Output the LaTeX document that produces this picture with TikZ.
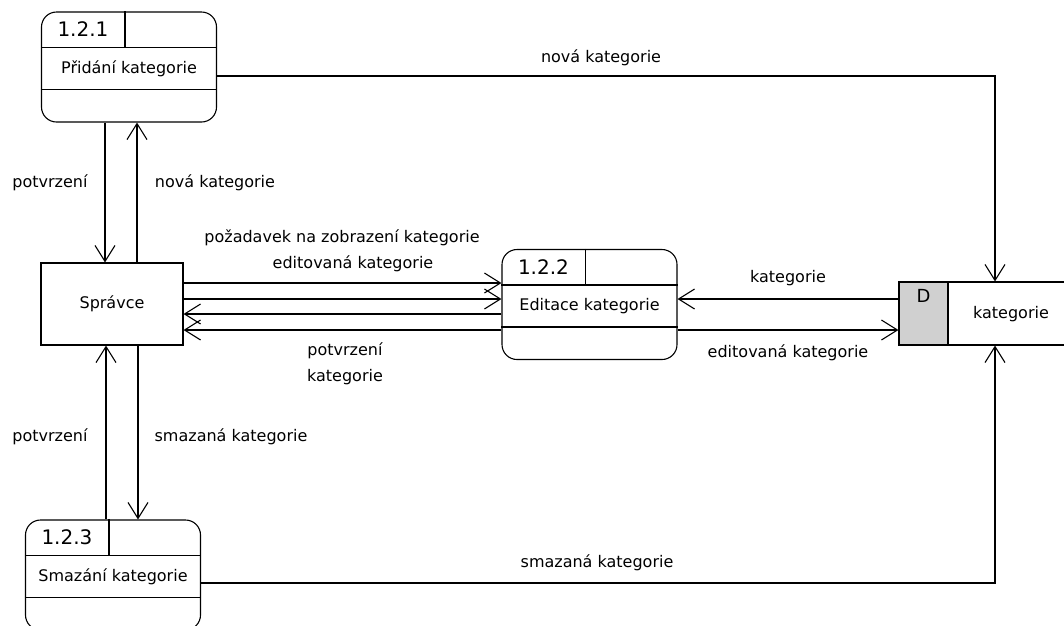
\documentclass[tikz,border=0pt]{standalone}
\usepackage{fontspec}
\setmainfont{DejaVu Sans}
\usetikzlibrary{arrows.meta}
\definecolor{storegray}{RGB}{208,208,208}

\begin{document}
\begin{tikzpicture}[x=1pt,y=-1pt]
\tikzstyle{every node}=[font=\fontsize{16}{19}\selectfont]
\tikzstyle{proc}=[draw,rounded corners=15pt,minimum width=175pt,minimum height=110pt,line width=1.1pt]
\tikzstyle{ent}=[draw,minimum width=142pt,minimum height=82pt,line width=1.1pt]
\tikzstyle{store}=[draw,minimum width=192pt,minimum height=63pt,line width=1.1pt]
\tikzstyle{num}=[font=\fontsize{20}{24}\selectfont]
\tikzstyle{flow}=[-{Straight Barb[length=16pt,width=20pt]},line width=1.1pt]
\clip (0,0) rectangle (1064,625);
\foreach \n/\x/\y/\num/\txt in {121/129/67/1.2.1/Přidání kategorie,122/589.5/304.5/1.2.2/Editace kategorie,123/113/575/1.2.3/Smazání kategorie}{
  \node[proc] (p\n) at (\x,\y) {};
  \draw[line width=1.1pt] ([yshift=-36pt]p\n.north west) -- ([yshift=-36pt]p\n.north east);
  \draw[line width=1.1pt] ([yshift=-78pt]p\n.north west) -- ([yshift=-78pt]p\n.north east);
  \draw[line width=1.1pt] ([xshift=84pt]p\n.north west) -- ([xshift=84pt,yshift=-36pt]p\n.north west);
  \node[num] (p\n n) at ([xshift=42pt,yshift=-18pt]p\n.north west) {\num};
  \node (p\n t) at ([yshift=-57pt]p\n.north) {\txt};
}
\node[ent] (sp) at (112,304) {Správce};
\node[store] (ds) at (995,313.5) {};
\node[draw,fill=storegray,minimum width=49pt,minimum height=63pt,line width=1.1pt,anchor=west] (dsd) at (ds.west) {};
\node[num,font=\fontsize{18}{22}\selectfont] (dsl) at ([yshift=-14pt]dsd.north) {D};
\node (dst) at (1011,314) {kategorie};

\draw[flow] ([yshift=-9pt]p121.east) -| (ds.north);
\draw[flow] ([xshift=-24pt]p121.south) -- ([xshift=-24pt]p121.south |- sp.north);
\draw[flow] ([xshift=8pt]p121.south |- sp.north) -- ([xshift=8pt]p121.south);
\draw[flow] ([yshift=21pt]sp.east) -- ([yshift=21pt]sp.east -| p122.west);
\draw[flow] ([yshift=5pt]sp.east) -- ([yshift=5pt]sp.east -| p122.west);
\draw[flow] ([yshift=-10pt]sp.east -| p122.west) -- ([yshift=-10pt]sp.east);
\draw[flow] ([yshift=-26pt]sp.east -| p122.west) -- ([yshift=-26pt]sp.east);
\draw[flow] ([yshift=14.5pt]ds.west) -- ([yshift=14.5pt]ds.west -| p122.east);
\draw[flow] ([yshift=-16.5pt]ds.west -| p122.east) -- ([yshift=-16.5pt]ds.west);
\draw[flow] ([xshift=-6pt]sp.south |- p123.north) -- ([xshift=-6pt]sp.south);
\draw[flow] ([xshift=26pt]sp.south) -- ([xshift=26pt]sp.south |- p123.north);
\draw[flow] ([yshift=-8pt]p123.east) -| (ds.south);

\node (l1) at (601,58) {nová kategorie};
\node (l2) at (50,183) {potvrzení};
\node (l3) at (215,183) {nová kategorie};
\node (l4) at (342,238) {požadavek na zobrazení kategorie};
\node (l5) at (353,264) {editovaná kategorie};
\node (l6) at (345,351) {potvrzení};
\node (l7) at (345,377) {kategorie};
\node (l8) at (788,278) {kategorie};
\node (l9) at (788,353) {editovaná kategorie};
\node (l10) at (50,437) {potvrzení};
\node (l11) at (231,437) {smazaná kategorie};
\node (l12) at (597,563) {smazaná kategorie};
\end{tikzpicture}
\end{document}
